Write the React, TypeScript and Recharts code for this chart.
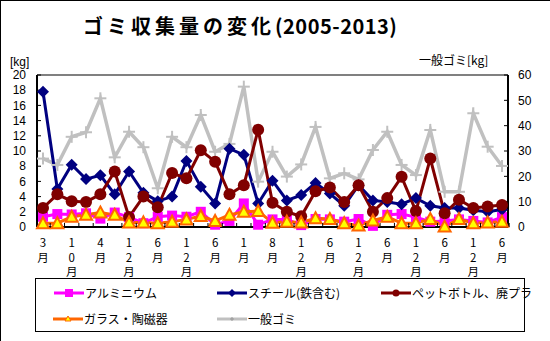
import React from "react";
import { LineChart, Line, XAxis, YAxis, ReferenceLine } from "recharts";

const months = [
  "3月", "6月", "10月", "1月", "4月", "8月", "12月", "3月", "6月", "9月", "12月",
  "3月", "6月", "10月", "1月", "4月", "8月", "10月", "12月", "3月", "6月", "9月",
  "12月", "3月", "6月", "9月", "12月", "3月", "6月", "9月", "12月", "3月", "6月"
];

const aluminium = [
  1.35, 1.7, 1.65, 1.8, 1.1, 1.9, 1.3, 0.5, 1.35, 1.5, 1.35, 2.0, 0.3, 0.8, 3.1, 0.3,
  1.0, 1.0, 0.25, 1.05, 1.0, 0.7, 1.05, 0.15, 1.6, 1.7, 1.3, 0.7, 0.8, 1.0, 0.8, 0.6, 1.3
];
const steel = [
  17.8, 5.0, 8.2, 6.3, 6.8, 4.3, 7.3, 4.5, 3.4, 4.0, 8.7, 5.3, 3.1, 10.3, 9.5, 3.1,
  6.1, 3.5, 4.2, 5.8, 4.4, 2.8, 5.5, 3.5, 3.3, 3.0, 3.8, 2.8, 2.5, 2.5, 2.2, 2.0, 2.3
];
const petPlastic = [
  2.5, 4.3, 3.4, 3.3, 4.3, 7.3, 1.3, 4.0, 2.6, 7.1, 6.4, 10.1, 8.6, 4.3, 5.5, 12.8,
  3.2, 2.0, 1.4, 4.7, 5.2, 3.3, 5.5, 2.0, 3.8, 6.6, 2.1, 9.0, 1.8, 3.6, 2.5, 2.7, 2.9
];
const glass = [
  0.5, 0.5, 1.35, 1.6, 1.9, 1.6, 0.6, 0.6, 0.5, 0.7, 1.0, 1.45, 0.8, 1.6, 2.0, 2.1,
  0.55, 0.7, 0.6, 1.15, 1.05, 0.5, 0.2, 0.85, 1.35, 0.5, 0.5, 1.05, 0.05, 1.05, 0.5, 0.6, 0.7
];
const general = [
  27, 24.5, 35.6, 37.4, 50.8, 27.5, 37.6, 31.5, 15.3, 35.6, 31.5, 44.2, 29.7, 32.8, 55.4,
  17.9, 29.7, 19.9, 24.7, 39.5, 19.2, 21.2, 18.8, 30.4, 37.6, 24.5, 20.5, 38.3, 13.9,
  13.9, 44.9, 31.7, 24.1
];

const leftTicks = [0, 2, 4, 6, 8, 10, 12, 14, 16, 18, 20];
const rightTicks = [0, 10, 20, 30, 40, 50, 60];

const data = months.map((m, i) => ({
  month: m,
  aluminium: aluminium[i],
  steel: steel[i],
  pet: petPlastic[i],
  glass: glass[i],
  general: general[i]
}));

const FONT = "'Noto Sans CJK JP', 'Noto Sans', sans-serif";
const NUM_FONT = "'Liberation Sans', Arial, sans-serif";
const W = 550;
const H = 341;
const LEFT_W = 37;
const RIGHT_W = 42;
const PAD = 6;
const HALF = (W - LEFT_W - RIGHT_W - PAD * 2) / (months.length - 1) / 2;

const MAGENTA = "#ff00ff";
const NAVY = "#000080";
const MAROON = "#800000";
const ORANGE = "#ff6600";
const YELLOW = "#ffff00";
const GRAY = "#c0c0c0";

function squareDot(props: any) {
  const { cx, cy, index } = props;
  return <rect key={`sq${index}`} x={cx - 5} y={cy - 5} width={10} height={10} fill={MAGENTA} />;
}
function diamondDot(props: any) {
  const { cx, cy, index } = props;
  const r = 6;
  return (
    <polygon
      key={`dm${index}`}
      points={`${cx},${cy - r} ${cx + r},${cy} ${cx},${cy + r} ${cx - r},${cy}`}
      fill={NAVY}
    />
  );
}
function circleDot(props: any) {
  const { cx, cy, index } = props;
  return <circle key={`ci${index}`} cx={cx} cy={cy} r={6} fill={MAROON} />;
}
function triangleDot(props: any) {
  const { cx, cy, index } = props;
  return (
    <polygon
      key={`tr${index}`}
      points={`${cx},${cy - 6} ${cx + 6},${cy + 5} ${cx - 6},${cy + 5}`}
      fill={YELLOW}
      stroke={ORANGE}
      strokeWidth={2}
    />
  );
}
function plusDot(props: any) {
  const { cx, cy, index } = props;
  return (
    <g key={`pl${index}`}>
      <line x1={cx - 6} x2={cx + 6} y1={cy} y2={cy} stroke={GRAY} strokeWidth={2} />
      <line x1={cx} x2={cx} y1={cy - 6} y2={cy + 6} stroke={GRAY} strokeWidth={2} />
    </g>
  );
}

function MonthTick(props: any) {
  const { x, y, payload, index } = props;
  const chars = String(payload.value).split("");
  return (
    <g>
      {index > 0 && <line x1={x - HALF} x2={x - HALF} y1={y} y2={y - 4} stroke="#000" />}
      {index === months.length - 1 && (
        <line x1={x + HALF} x2={x + HALF} y1={y} y2={y - 4} stroke="#000" />
      )}
      {index % 2 === 0 && (
        <text x={x} y={y + 20} textAnchor="middle" fontSize={11.5} fontFamily={FONT} fill="#000">
          {chars.map((c, i) => (
            <tspan key={i} x={x} dy={i === 0 ? 0 : 14.5}>
              {c}
            </tspan>
          ))}
        </text>
      )}
    </g>
  );
}

function LegendMark({ kind, color }: { kind: string; color: string }) {
  return (
    <svg width={30} height={10} style={{ display: "block" }}>
      <line x1={0} x2={30} y1={5} y2={5} stroke={color} strokeWidth={3} />
      {kind === "square" && <rect x={11} y={1} width={8} height={8} fill={MAGENTA} />}
      {kind === "diamond" && <polygon points="15,1 19,5 15,9 11,5" fill={NAVY} />}
      {kind === "circle" && <circle cx={15} cy={5} r={3.5} fill={MAROON} />}
      {kind === "triangle" && (
        <polygon points="15,2 18,7 12,7" fill={YELLOW} stroke={ORANGE} strokeWidth={1} />
      )}
      {kind === "plus" && (
        <g>
          <line x1={13} x2={17} y1={5} y2={5} stroke="#999" strokeWidth={1} />
          <line x1={15} x2={15} y1={3} y2={7} stroke="#999" strokeWidth={1} />
        </g>
      )}
    </svg>
  );
}

const legendItems = [
  { name: "アルミニウム", kind: "square", color: MAGENTA, x: 53, y: 285 },
  { name: "スチール(鉄含む)", kind: "diamond", color: NAVY, x: 216, y: 285 },
  { name: "ペットボトル、廃プラ", kind: "circle", color: MAROON, x: 380, y: 285 },
  { name: "ガラス・陶磁器", kind: "triangle", color: ORANGE, x: 52, y: 311 },
  { name: "一般ゴミ", kind: "plus", color: GRAY, x: 216, y: 311 }
];

export default function App() {
  return (
    <div
      style={{
        position: "fixed",
        left: 0,
        top: 0,
        width: W,
        height: H,
        background: "#fff",
        fontFamily: FONT,
        borderLeft: "1px solid #000",
        borderTop: "1px solid #000",
        boxSizing: "border-box",
        overflow: "hidden"
      }}
    >
      <div
        style={{
          position: "absolute",
          left: 82,
          top: 12,
          fontSize: 20,
          fontWeight: "bold",
          whiteSpace: "nowrap",
          lineHeight: "26px"
        }}
      >
        <span style={{ letterSpacing: 4 }}>ゴミ収集量の変化</span>
        <span style={{ letterSpacing: 0.5 }}>(2005-2013)</span>
      </div>
      <div
        style={{
          position: "absolute",
          left: 9,
          top: 54,
          fontSize: 12,
          lineHeight: "14px",
          fontFamily: NUM_FONT
        }}
      >
        [kg]
      </div>
      <div style={{ position: "absolute", left: 418, top: 51, fontSize: 12, lineHeight: "16px" }}>
        一般ゴミ[kg]
      </div>
      <div style={{ position: "absolute", left: -1, top: -1 }}>
        <LineChart
          width={W}
          height={H}
          data={data}
          margin={{ top: 75, right: 0, bottom: 64, left: 0 }}
        >
          <XAxis
            dataKey="month"
            xAxisId="x"
            interval={0}
            height={50}
            padding={{ left: PAD, right: PAD }}
            tickLine={false}
            tickSize={0}
            tickMargin={0}
            axisLine={{ stroke: "#000", strokeWidth: 2 }}
            tick={<MonthTick />}
          />
          <YAxis
            yAxisId="left"
            orientation="left"
            width={LEFT_W}
            domain={[0, 20]}
            ticks={leftTicks}
            interval={0}
            tickSize={-4}
            tickMargin={15}
            tickLine={{ stroke: "#000" }}
            axisLine={{ stroke: "#000", strokeWidth: 2 }}
            tick={{ fill: "#000", fontSize: 12, fontFamily: NUM_FONT }}
          />
          <YAxis
            yAxisId="right"
            orientation="right"
            width={RIGHT_W}
            domain={[0, 60]}
            ticks={rightTicks}
            interval={0}
            tickSize={-4}
            tickMargin={14}
            tickLine={{ stroke: "#000" }}
            axisLine={{ stroke: "#000", strokeWidth: 2 }}
            tick={{ fill: "#000", fontSize: 12, fontFamily: NUM_FONT }}
          />
          <ReferenceLine y={20} yAxisId="left" xAxisId="x" stroke="#808080" strokeWidth={2} />
          <Line
            xAxisId="x"
            yAxisId="right"
            dataKey="general"
            stroke={GRAY}
            strokeWidth={3.5}
            dot={plusDot}
            isAnimationActive={false}
          />
          <Line
            xAxisId="x"
            yAxisId="left"
            dataKey="aluminium"
            stroke={MAGENTA}
            strokeWidth={3}
            dot={squareDot}
            isAnimationActive={false}
          />
          <Line
            xAxisId="x"
            yAxisId="left"
            dataKey="steel"
            stroke={NAVY}
            strokeWidth={3}
            dot={diamondDot}
            isAnimationActive={false}
          />
          <Line
            xAxisId="x"
            yAxisId="left"
            dataKey="pet"
            stroke={MAROON}
            strokeWidth={3}
            dot={circleDot}
            isAnimationActive={false}
          />
          <Line
            xAxisId="x"
            yAxisId="left"
            dataKey="glass"
            stroke={ORANGE}
            strokeWidth={3}
            dot={triangleDot}
            isAnimationActive={false}
          />
        </LineChart>
      </div>
      <div
        style={{
          position: "absolute",
          left: 34,
          top: 277,
          width: 490,
          height: 54,
          border: "1px solid #000",
          boxSizing: "border-box"
        }}
      />
      {legendItems.map((it) => (
        <div
          key={it.name}
          style={{
            position: "absolute",
            left: it.x,
            top: it.y,
            display: "flex",
            alignItems: "center",
            fontSize: 12,
            lineHeight: "14px",
            whiteSpace: "nowrap"
          }}
        >
          <LegendMark kind={it.kind} color={it.color} />
          <span style={{ marginLeft: 1 }}>{it.name}</span>
        </div>
      ))}
    </div>
  );
}
